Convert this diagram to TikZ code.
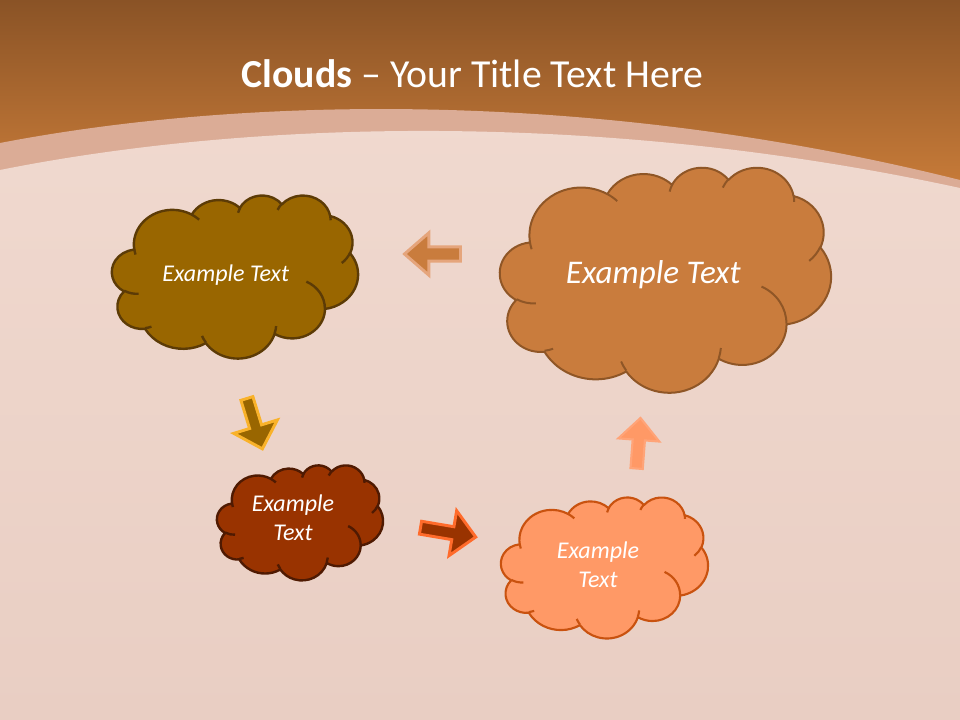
\documentclass[tikz,border=0pt]{standalone}
\usepackage{fontspec}
\setmainfont{Carlito}
\usetikzlibrary{shapes.arrows}

\definecolor{topbrown}{HTML}{8A5326}
\definecolor{toporange}{HTML}{CC7E3A}
\definecolor{bandc}{HTML}{DBAC96}
\definecolor{woodtop}{HTML}{F0D9CF}
\definecolor{woodbot}{HTML}{E9CEC3}
\definecolor{cAfill}{HTML}{996600}
\definecolor{cAline}{HTML}{5C3B06}
\definecolor{cBfill}{HTML}{C97C3D}
\definecolor{cBline}{HTML}{8F5626}
\definecolor{cCfill}{HTML}{993300}
\definecolor{cCline}{HTML}{4F1A02}
\definecolor{cDfill}{HTML}{FF9966}
\definecolor{cDline}{HTML}{C9520F}
\definecolor{glowB}{HTML}{E5A57C}
\definecolor{glowA}{HTML}{F9B22A}
\definecolor{glowC}{HTML}{FF6B2B}
\definecolor{glowD}{HTML}{FFA478}

\makeatletter
\newcommand\cldarc[5]{%
 \pgfmathsetmacro\cld@tA{atan2((#2)*sin(#4),(#3)*cos(#4))}%
 \pgfmathsetmacro\cld@tB{atan2((#2)*sin((#4)+(#5)),(#3)*cos((#4)+(#5)))}%
 \pgfmathsetmacro\cld@tD{mod(\cld@tB-\cld@tA+720,360)}%
 \xdef#1{#1 arc[start angle=\cld@tA, delta angle=\cld@tD, x radius=#2pt, y radius=#3pt]}}
\makeatother

\gdef\cloudouter{(39,143.7)}
\cldarc\cloudouter{67.53}{91.90}{-190.4875}{123.7805}
\cldarc\cloudouter{53.33}{72.67}{-144.1024}{89.9452}
\cldarc\cloudouter{43.65}{59.45}{-145.8079}{99.7230}
\cldarc\cloudouter{48.57}{65.95}{-130.9861}{117.2417}
\cldarc\cloudouter{53.33}{72.73}{-78.7089}{109.0269}
\cldarc\cloudouter{67.75}{92.20}{-46.2673}{130.2690}
\cldarc\cloudouter{57.85}{78.67}{0.6250}{114.0333}
\cldarc\cloudouter{67.52}{92.15}{22.4516}{115.1726}
\cldarc\cloudouter{77.20}{105.43}{66.2426}{75.7110}
\cldarc\cloudouter{43.60}{59.18}{-274.9421}{146.7356}
\cldarc\cloudouter{43.45}{59.45}{-246.8285}{152.5189}
\xdef\cloudouter{\cloudouter -- cycle}

\gdef\cloudinner{(46.93,261.77)}
\cldarc\cloudinner{43.45}{59.45}{86.7420}{26.4295}
\xdef\cloudinner{\cloudinner (69.28,348.99)}
\cldarc\cloudinner{43.60}{59.18}{73.6105}{11.4475}
\xdef\cloudinner{\cloudinner (164.78,390.90)}
\cldarc\cloudinner{67.52}{92.15}{137.6242}{14.0811}
\xdef\cloudinner{\cloudinner (288.27,347.51)}
\cldarc\cloudinner{67.52}{92.15}{6.4533}{15.9984}
\xdef\cloudinner{\cloudinner (341.29,229.54)}
\cldarc\cloudinner{57.85}{78.67}{-70.2924}{70.9174}
\xdef\cloudinner{\cloudinner (417.98,153.54)}
\cldarc\cloudinner{53.33}{72.73}{30.3180}{27.7515}
\xdef\cloudinner{\cloudinner (383.24,54.26)}
\cldarc\cloudinner{48.57}{65.95}{-13.7443}{14.8589}
\xdef\cloudinner{\cloudinner (290.78,39.52)}
\cldarc\cloudinner{48.57}{65.95}{-149.1815}{18.1954}
\xdef\cloudinner{\cloudinner (221.41,47.20)}
\cldarc\cloudinner{43.65}{59.45}{-163.4943}{17.6864}
\xdef\cloudinner{\cloudinner (140.00,51.92)}
\cldarc\cloudinner{67.53}{91.90}{-66.7070}{12.3194}
\xdef\cloudinner{\cloudinner (41.27,157.89)}
\cldarc\cloudinner{67.53}{91.90}{157.6544}{11.8582}

\newcommand\pcloud[5]{%
 \begin{scope}[shift={(#1,#2)}, x=1pt, y=1pt, xscale={#3*0.75/432}, yscale={-#4*0.75/432}]
  \draw[#5] \cloudouter;
  \draw[#5, fill=none] \cloudinner;
 \end{scope}}

\tikzset{
 cloudA/.style={fill=cAfill, draw=cAline, line width=1.8pt, line join=round},
 cloudB/.style={fill=cBfill, draw=cBline, line width=1.5pt, line join=round},
 cloudC/.style={fill=cCfill, draw=cCline, line width=1.8pt, line join=round},
 cloudD/.style={fill=cDfill, draw=cDline, line width=1.6pt, line join=round},
 blockarr/.style={single arrow, draw, inner xsep=0pt, outer sep=0pt, anchor=tail, line width=2.2pt, line join=miter},
 smalltxt/.style={text=white, font=\fontsize{18}{21.4}\selectfont\itshape, align=center},
}

\begin{document}
\begin{tikzpicture}[x=0.75pt,y=-0.75pt]
\useasboundingbox (0,0) rectangle (960,720);
% background
\shade[top color=topbrown, bottom color=toporange] (0,0) rectangle (960,200);
\fill[bandc] (0,143) .. controls (250,95) and (600,90) .. (960,180) -- (960,720) -- (0,720) -- cycle;
\shade[top color=woodtop, bottom color=woodbot] (0,170) .. controls (250,120) and (600,110) .. (960,188) -- (960,720) -- (0,720) -- cycle;

% title
\node[text=white, font=\fontsize{29.8}{36}\selectfont, anchor=base] (title) at (472.5,87.3) {\textbf{Clouds} – Your Title Text Here};

% clouds
\pcloud{112}{195}{246}{163}{cloudA}
\pcloud{500}{167}{331}{225}{cloudB}
\pcloud{217}{465}{166}{115}{cloudC}
\pcloud{501}{497}{207}{141}{cloudD}

% texts
\node[text=white, font=\fontsize{18}{21.4}\selectfont\itshape, anchor=base] (tA) at (225.8,281.7) {Example Text};
\node[text=white, font=\fontsize{24.8}{29}\selectfont\itshape, anchor=base] (tB) at (653.3,284) {Example Text};
\node[smalltxt] (tC) at (293,518) {Example\\Text};
\node[smalltxt] (tD) at (598,564.5) {Example\\Text};

% arrows
\node[blockarr, fill=cBfill, draw=glowB, rotate=180, minimum height=42pt, inner ysep=4.3pt, single arrow head extend=10.5pt, single arrow tip angle=82] (arrL) at (460.5,254) {};
\node[blockarr, fill=cAfill, draw=glowA, rotate=-72.9, minimum height=39.5pt, inner ysep=3.6pt, single arrow head extend=12.4pt, single arrow tip angle=89] (arrD) at (246.9,398.5) {};
\node[blockarr, fill=cCfill, draw=glowC, rotate=-9.6, minimum height=42pt, inner ysep=3.8pt, single arrow head extend=12.2pt, single arrow tip angle=89] (arrR) at (420.5,527.7) {};
\node[blockarr, fill=cDfill, draw=glowD, line width=1.6pt, rotate=85.6, minimum height=38pt, inner ysep=3.8pt, single arrow head extend=10.8pt, single arrow tip angle=86] (arrU) at (636.6,468.5) {};
\end{tikzpicture}
\end{document}
